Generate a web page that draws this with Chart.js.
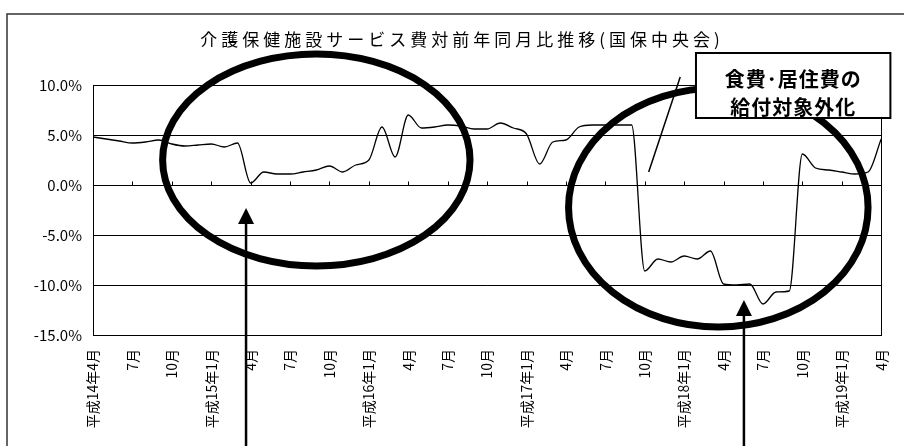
<!DOCTYPE html>
<html>
<head>
<meta charset="utf-8">
<script src="https://cdn.jsdelivr.net/npm/chart.js@4/dist/chart.umd.min.js"></script>
<style>
  html, body { margin: 0; padding: 0; background: #fff; }
  #wrap { width: 904px; height: 446px; }
</style>
</head>
<body>
<div id="wrap"><canvas id="chart" width="904" height="446"></canvas></div>
<script>
// --- data ---
const categories = [
  '平成14年4月','平成14年5月','平成14年6月','平成14年7月','平成14年8月','平成14年9月','平成14年10月','平成14年11月','平成14年12月',
  '平成15年1月','平成15年2月','平成15年3月','平成15年4月','平成15年5月','平成15年6月','平成15年7月','平成15年8月','平成15年9月','平成15年10月','平成15年11月','平成15年12月',
  '平成16年1月','平成16年2月','平成16年3月','平成16年4月','平成16年5月','平成16年6月','平成16年7月','平成16年8月','平成16年9月','平成16年10月','平成16年11月','平成16年12月',
  '平成17年1月','平成17年2月','平成17年3月','平成17年4月','平成17年5月','平成17年6月','平成17年7月','平成17年8月','平成17年9月','平成17年10月','平成17年11月','平成17年12月',
  '平成18年1月','平成18年2月','平成18年3月','平成18年4月','平成18年5月','平成18年6月','平成18年7月','平成18年8月','平成18年9月','平成18年10月','平成18年11月','平成18年12月',
  '平成19年1月','平成19年2月','平成19年3月','平成19年4月'
];

// 対前年同月比 (%)
const growth = [
  4.8, 4.6, 4.4, 4.2, 4.3, 4.5, 4.1, 3.9, 4.0,
  4.1, 3.8, 4.2, 0.2, 1.3, 1.1, 1.1, 1.3, 1.5, 1.9, 1.3, 2.0,
  2.5, 5.8, 2.8, 7.0, 5.7, 5.8, 6.0, 5.9, 5.6, 5.6, 6.2, 5.7,
  5.1, 2.1, 4.3, 4.5, 5.8, 6.0, 6.0, 6.0, 6.0, -8.6, -7.4, -7.7,
  -7.1, -7.4, -6.6, -9.9, -10.0, -9.9, -11.9, -10.7, -10.6, 3.1, 1.7, 1.5,
  1.3, 1.1, 1.3, 4.6
];

// labels shown every 3 months
const tickLabels = [
  '平成14年4月','7月','10月','平成15年1月','4月','7月','10月','平成16年1月','4月','7月','10月',
  '平成17年1月','4月','7月','10月','平成18年1月','4月','7月','10月','平成19年1月','4月'
];
const yTicks = [-15, -10, -5, 0, 5, 10];

const title = '介護保健施設サービス費対前年同月比推移(国保中央会)';
const calloutLines = ['食費･居住費の', '給付対象外化'];

const FONT = '"Noto Sans CJK JP", "Noto Sans", sans-serif';

// --- drawing of frame, ellipses, arrows, callout ---
const annotate = {
  id: 'annotate',
  afterDraw(chart) {
    const { ctx, chartArea: a, scales: { x, y } } = chart;
    const px = m => x.getPixelForValue(m);
    const py = v => y.getPixelForValue(v);
    ctx.save();

    // plot area box
    ctx.strokeStyle = '#000';
    ctx.lineWidth = 1;
    ctx.strokeRect(Math.round(a.left) + 0.5, Math.round(a.top) + 0.5,
                   Math.round(a.right - a.left), Math.round(a.bottom - a.top));

    // tick marks on the 0% line every 3 months
    const y0 = Math.round(py(0)) + 0.5;
    ctx.beginPath();
    for (let i = 3; i < categories.length - 1; i += 3) {
      const xx = Math.round(px(i)) + 0.5;
      ctx.moveTo(xx, y0);
      ctx.lineTo(xx, y0 - 4);
    }
    ctx.stroke();

    // ellipses
    function ellipse(cm, cv, rm, rv) {
      const cx = px(cm), cy = py(cv);
      const rx = px(cm + rm) - cx, ry = cy - py(cv + rv);
      ctx.beginPath();
      ctx.ellipse(cx, cy, rx, ry, 0, 0, Math.PI * 2);
      ctx.lineWidth = 7;
      ctx.stroke();
    }
    ellipse(17.0, 2.5, 11.7, 10.6);
    ellipse(47.6, -2.25, 11.4, 11.95);

    // arrows from the bottom edge
    function arrow(m, v) {
      const xx = px(m), tip = py(v);
      ctx.lineWidth = 2.5;
      ctx.beginPath();
      ctx.moveTo(xx, chart.height);
      ctx.lineTo(xx, tip + 12);
      ctx.stroke();
      ctx.beginPath();
      ctx.moveTo(xx, tip);
      ctx.lineTo(xx - 8, tip + 16);
      ctx.lineTo(xx + 8, tip + 16);
      ctx.closePath();
      ctx.fillStyle = '#000';
      ctx.fill();
    }
    arrow(11.65, -2.3);
    arrow(49.55, -11.5);

    // pointer line to the callout
    ctx.lineWidth = 1.5;
    ctx.beginPath();
    ctx.moveTo(px(44.7), py(10.8));
    ctx.lineTo(px(42.3), py(1.3));
    ctx.stroke();

    // callout box
    const bl = px(45.9), br = px(60.7), bt = py(13.2), bb = py(6.7);
    ctx.fillStyle = '#fff';
    ctx.fillRect(bl, bt, br - bl, bb - bt);
    ctx.lineWidth = 2;
    ctx.strokeRect(bl, bt, br - bl, bb - bt);
    ctx.fillStyle = '#000';
    ctx.font = 'bold 20px ' + FONT;
    ctx.textAlign = 'center';
    ctx.textBaseline = 'middle';
    ctx.letterSpacing = '1px';
    ctx.fillText(calloutLines[0], (bl + br) / 2, bt + 26);
    ctx.fillText(calloutLines[1], (bl + br) / 2, bt + 54);

    // title
    ctx.font = '17px ' + FONT;
    ctx.letterSpacing = '4px';
    ctx.fillText(title, 462, 40);
    ctx.letterSpacing = '0px';

    // outer frame
    ctx.strokeStyle = '#333';
    ctx.lineWidth = 1.5;
    ctx.beginPath();
    ctx.moveTo(7, chart.height);
    ctx.lineTo(7, 14);
    ctx.lineTo(chart.width, 14);
    ctx.stroke();

    ctx.restore();
  }
};

new Chart(document.getElementById('chart'), {
  type: 'line',
  data: {
    labels: categories,
    datasets: [{
      data: growth,
      borderColor: '#000',
      borderWidth: 1.3,
      pointRadius: 0,
      fill: false,
      cubicInterpolationMode: 'monotone'
    }]
  },
  options: {
    responsive: false,
    animation: false,
    layout: { padding: { left: 0, top: 85, right: 18, bottom: 0 } },
    plugins: {
      legend: { display: false },
      title: { display: false },
      tooltip: { enabled: false }
    },
    scales: {
      x: {
        offset: false,
        grid: { display: false },
        border: { display: false },
        afterFit: s => { s.height = 111; },
        ticks: {
          autoSkip: false,
          maxRotation: 90,
          minRotation: 90,
          padding: 6,
          color: '#000',
          font: { family: FONT, size: 14 },
          callback: (v, i) => (i % 3 === 0 ? tickLabels[i / 3] : null)
        }
      },
      y: {
        min: -15,
        max: 10,
        afterBuildTicks: s => { s.ticks = yTicks.map(v => ({ value: v })); },
        afterFit: s => { s.width = 93; },
        grid: { color: '#000', lineWidth: 1, drawTicks: false },
        border: { display: false },
        ticks: {
          padding: 11,
          color: '#000',
          font: { family: FONT, size: 15 },
          callback: v => v.toFixed(1) + '%'
        }
      }
    }
  },
  plugins: [annotate]
});
</script>
</body>
</html>
